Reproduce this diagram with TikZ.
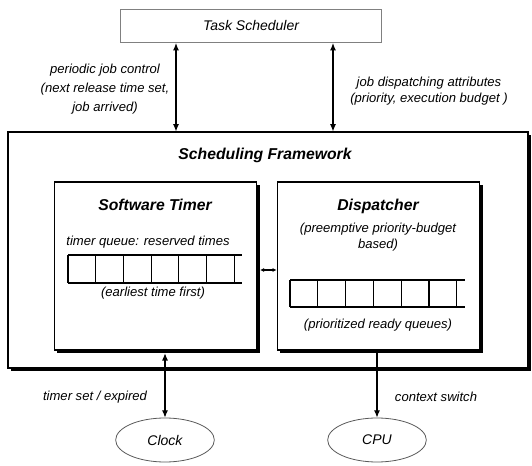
\documentclass[tikz,border=0pt]{standalone}
\usepackage{fontspec}
\setmainfont{Liberation Sans}
\usetikzlibrary{arrows.meta,shapes.geometric,shadows}

\begin{document}
\begin{tikzpicture}[x=0.75pt,y=-0.75pt,>={Latex[length=5.5pt,width=4.5pt]},
  every node/.style={font=\itshape\fontsize{9.8}{12.5}\selectfont},
  blockstyle/.style={draw,fill=white,line width=0.8pt,inner sep=0pt,
    drop shadow={opacity=1,fill=black,shadow xshift=2pt,shadow yshift=-2pt}},
  titlestyle/.style={font=\bfseries\itshape\fontsize{11.8}{14}\selectfont},
  ovalstyle/.style={ellipse,draw=black!65,line width=0.6pt,minimum width=74pt,minimum height=33pt,
    font=\itshape\fontsize{10.5}{12}\selectfont},
  linkstyle/.style={line width=0.8pt}]
\useasboundingbox (0,0) rectangle (532,466);

% scheduler on top
\node[draw=black!50,line width=0.6pt,minimum width=196pt,minimum height=25pt,
  font=\itshape\fontsize{10.5}{12}\selectfont] (TS) at (251,26) {Task Scheduler};

% framework with timer and dispatcher
\node[blockstyle,minimum width=390pt,minimum height=177pt] (SF) at (268,250) {};
\node[titlestyle] (SFtitle) at (265,155) {Scheduling Framework};
\node[blockstyle,minimum width=152pt,minimum height=126pt] (ST) at (155.5,266) {};
\node[blockstyle,minimum width=152pt,minimum height=126pt] (DP) at (378.5,266) {};

\node[titlestyle] (STtitle) at (155,205) {Software Timer};
\node (STqueue) at (148,242) {timer queue: reserved times};
\node (STorder) at (153,293) {(earliest time first)};
\node[titlestyle] (DPtitle) at (378,206) {Dispatcher};
\node[align=center] (DPpolicy) at (378,237) {(preemptive priority-budget\\based)};
\node (DPqueue) at (378,325) {(prioritized ready queues)};

% queue cells
\foreach \i in {0,...,6}
  \draw[linkstyle] (68+\i*27.7,255) -- ++(0,28);
\draw[linkstyle] (68,255) -- (242,255) (68,283) -- (242,283);
\foreach \i in {0,...,6}
  \draw[linkstyle] (290+\i*27.8,280) -- ++(0,27);
\draw[linkstyle] (290,280) -- (465,280) (290,307) -- (465,307);

% clock and cpu
\node[ovalstyle] (Clock) at (165,440) {Clock};
\node[ovalstyle] (CPU) at (377,440) {CPU};

% labels of the connectors
\node[align=center] (PJ) at (105,89) {periodic job control\\[1.5pt](next release time set,\\[1.5pt]job arrived)};
\node[align=center] (JD) at (429,91) {job dispatching attributes\\(priority, execution budget )};
\node (TE) at (95,397) {timer set / expired};
\node (CS) at (436,397) {context switch};

% connectors
\coordinate (pjx) at (176,0);
\coordinate (jdx) at (333,0);
\draw[linkstyle,<->] (TS.south -| pjx) -- (SF.north -| pjx);
\draw[linkstyle,<->] (TS.south -| jdx) -- (SF.north -| jdx);
\draw[linkstyle,<->,>={Latex[length=3pt,width=3pt]}] ([xshift=2pt,yshift=-3pt]ST.east) -- ([yshift=-3pt]DP.west);
\draw[linkstyle,<->] ([yshift=-2pt]Clock.north |- ST.south) -- (Clock.north);
\draw[linkstyle,->] ([yshift=-2pt]CPU.north |- DP.south) -- (CPU.north);
\end{tikzpicture}
\end{document}
